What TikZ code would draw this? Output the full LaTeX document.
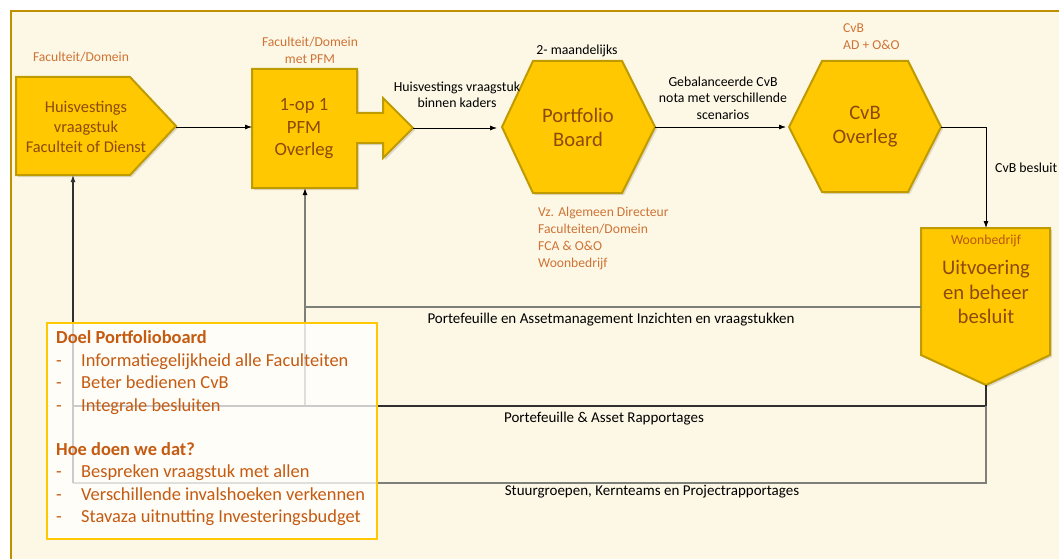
\documentclass[tikz,border=0pt]{standalone}
\usepackage{fontspec}
\setmainfont{Carlito}
\usetikzlibrary{arrows.meta,shadows}
\definecolor{cream}{HTML}{FDF8E6}
\definecolor{frame}{HTML}{BF9000}
\definecolor{gold}{HTML}{FFC800}
\definecolor{goldline}{HTML}{BF9A00}
\definecolor{brown}{HTML}{8C4A0C}
\definecolor{orangetxt}{HTML}{C55A11}
\definecolor{legendline}{HTML}{FFC800}
\definecolor{lgray}{HTML}{7F7F7A}
\definecolor{dgray}{HTML}{303030}
\tikzset{
  shapebox/.style={fill=gold,draw=goldline,line width=2pt,line join=miter,
    drop shadow={opacity=0.25,shadow xshift=2pt,shadow yshift=-2pt}},
  intext/.style={text=brown,align=center,inner sep=0pt},
  lbl/.style={text=black,font=\fontsize{13.8}{16.5}\selectfont,align=center,inner sep=0pt},
  olbl/.style={text=orangetxt!85!white,font=\fontsize{13.6}{17}\selectfont,align=left,inner sep=0pt},
  conn/.style={draw=black,line width=0.8pt,-{Latex[length=7pt,width=5pt]}},
  fb/.style={line width=1.2pt},
  legtext/.style={text=orangetxt,anchor=base west,inner sep=0pt,font=\fontsize{18.4}{22}\selectfont}
}
\begin{document}
\begin{tikzpicture}[x=1pt,y=-1pt]
\useasboundingbox (0,0) rectangle (1059,559);
\fill[white] (0,0) rectangle (1059,559);
\fill[cream] (10,10) rectangle (1059,559);
\draw[frame,line width=2.5pt] (11,559) -- (11,11) -- (1059,11);

% feedback line corners
\coordinate (c307) at (305,307);
\coordinate (c406r) at (986,406);
\coordinate (c406l) at (73,406);
\coordinate (c406m) at (305,406);
\coordinate (c483r) at (986,483);
\coordinate (c483l) at (73,483);

% shapes
\path[shapebox] (16,77) -- (130,77) -- (176,126) -- (130,175) -- (16,175) -- cycle;
\path[shapebox] (252,69) -- (357,69) -- (357,113) -- (383,113) -- (383,98) -- (413,128) -- (383,158) -- (383,143) -- (357,143) -- (357,188) -- (252,188) -- cycle;
\path[shapebox] (502,127) -- (533,61) -- (622,61) -- (655,127) -- (622,193) -- (533,193) -- cycle;
\path[shapebox] (789,127) -- (822,61) -- (908,61) -- (941,127) -- (908,192) -- (822,192) -- cycle;
\path[shapebox] (921,228) -- (1050,228) -- (1050,355) -- (986,385) -- (921,355) -- cycle;

\coordinate (huisTip) at (176,127);
\coordinate (huisBot) at (73,175);
\coordinate (pfmW) at (252,127);
\coordinate (pfmTip) at (413,128);
\coordinate (pfmBot) at (305,188);
\coordinate (pbW) at (502,128);
\coordinate (pbE) at (655,127);
\coordinate (cvbW) at (789,127);
\coordinate (cvbE) at (941,127);
\coordinate (uitTop) at (986,228);
\coordinate (uitW) at (921,307);
\coordinate (uitTip) at (986,385);

\node[intext,font=\fontsize{16.4}{19.7}\selectfont] (huis) at (86,127) {Huisvestings\\vraagstuk\\Faculteit of Dienst};
\node[intext,font=\fontsize{18.7}{22.5}\selectfont] (pfm) at (304,129) {1-op 1\\PFM\\Overleg};
\node[intext,font=\fontsize{20.6}{24}\selectfont] (pb) at (578,127) {Portfolio\\Board};
\node[intext,font=\fontsize{20.6}{24}\selectfont] (cvb) at (865,127) {CvB\\Overleg};
\node[intext,text=orangetxt!80!brown,font=\fontsize{13.7}{15}\selectfont] (wb) at (986,241) {Woonbedrijf};
\node[intext,font=\fontsize{20.7}{24.5}\selectfont] (uit) at (986,292) {Uitvoering\\en beheer\\besluit};

% connectors
\draw[conn] (huisTip) -- (pfmW);
\draw[conn,shorten >=5pt] (pfmTip) -- (pbW);
\draw[conn,shorten >=3pt] (pbE) -- (cvbW);
\draw[conn] (cvbE) -| (uitTop);

\draw[lgray,fb] (uitW) -- (c307);
\draw[lgray,fb,-{Latex[length=7pt,width=5pt,fill=black,color=black]}] (c406m) -- (pfmBot);
\draw[dgray,fb] (uitTip) -- (c406r) -- (c406l);
\draw[lgray,fb] (c406r) -- (c483r) -- (c483l);
\draw[dgray,fb,-{Latex[length=7pt,width=5pt]}] (c483l) -- (huisBot);

% labels
\node[olbl,align=center] (l1) at (81,57) {Faculteit/Domein};
\node[olbl,align=center] (l2) at (310,50) {Faculteit/Domein\\met PFM};
\node[lbl] (l3) at (457,95) {Huisvestings vraagstuk\\binnen kaders};
\node[lbl] (l4) at (577,51) {2- maandelijks};
\node[lbl] (l5) at (723,98) {Gebalanceerde CvB\\nota met verschillende\\scenarios};
\node[olbl,anchor=west] (l6) at (538,238.5) {Vz. Algemeen Directeur\\Faculteiten/Domein\\FCA \& O\&O\\Woonbedrijf};
\node[olbl,anchor=west] (l7) at (843,37) {CvB\\AD + O\&O};
\node[lbl,anchor=west] (l8) at (995,168) {CvB besluit};
\node[lbl,font=\fontsize{15}{17}\selectfont] (l9) at (611,320) {Portefeuille en Assetmanagement Inzichten en vraagstukken};
\node[lbl,font=\fontsize{15}{17}\selectfont] (l10) at (604,419) {Portefeuille \& Asset Rapportages};
\node[lbl,font=\fontsize{15}{17}\selectfont] (l11) at (652,492) {Stuurgroepen, Kernteams en Projectrapportages};

% legend
\draw[draw=legendline,line width=2.5pt,fill=white,fill opacity=0.75] (47,323) rectangle (377,539);
\node[legtext,font=\bfseries\fontsize{18.4}{22}\selectfont] (h1) at (56,343) {Doel Portfolioboard};
\node[legtext] (d1) at (56,366) {-};
\node[legtext] (t1) at (81,366) {Informatiegelijkheid alle Faculteiten};
\node[legtext] (d2) at (56,388) {-};
\node[legtext] (t2) at (81,388) {Beter bedienen CvB};
\node[legtext] (d3) at (56,411) {-};
\node[legtext] (t3) at (81,411) {Integrale besluiten};
\node[legtext,font=\bfseries\fontsize{18.4}{22}\selectfont] (h2) at (56,455) {Hoe doen we dat?};
\node[legtext] (d4) at (56,477) {-};
\node[legtext] (t4) at (81,477) {Bespreken vraagstuk met allen};
\node[legtext] (d5) at (56,500) {-};
\node[legtext] (t5) at (81,500) {Verschillende invalshoeken verkennen};
\node[legtext] (d6) at (56,522) {-};
\node[legtext] (t6) at (81,522) {Stavaza uitnutting Investeringsbudget};
\end{tikzpicture}
\end{document}
